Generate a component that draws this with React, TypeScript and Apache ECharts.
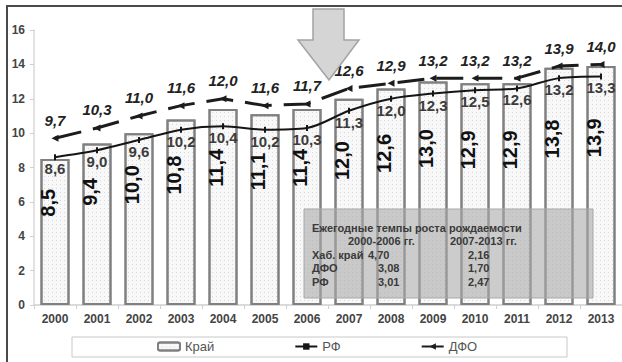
import React, { useEffect, useRef } from "react";
import * as echarts from "echarts";

// Birth rate per 1000 population
const years = ["2000", "2001", "2002", "2003", "2004", "2005", "2006", "2007", "2008", "2009", "2010", "2011", "2012", "2013"];
const kray = [8.5, 9.4, 10.0, 10.8, 11.4, 11.1, 11.4, 12.0, 12.6, 13.0, 12.9, 12.9, 13.8, 13.9];
const rf = [8.6, 9.0, 9.6, 10.2, 10.4, 10.2, 10.3, 11.3, 12.0, 12.3, 12.5, 12.6, 13.2, 13.3];
const dfo = [9.7, 10.3, 11.0, 11.6, 12.0, 11.6, 11.7, 12.6, 12.9, 13.2, 13.2, 13.2, 13.9, 14.0];

// Inset table: annual growth rates
const tableTitle = "Ежегодные темпы роста рождаемости";
const periods = ["2000-2006 гг.", "2007-2013 гг."];
const regions = ["Хаб. край", "ДФО", "РФ"];
const rate1 = ["4,70", "3,08", "3,01"];
const rate2 = ["2,16", "1,70", "2,47"];

const FONT = 'Arial, "Liberation Sans", sans-serif';
const fmt = (v: number) => v.toFixed(1).replace(".", ",");

export default function App() {
  const ref = useRef<HTMLDivElement>(null);

  useEffect(() => {
    if (!ref.current) return;
    const chart = echarts.init(ref.current, null, { renderer: "svg" });

    const rowY = [255, 268, 282];
    const tableTexts: any[] = [
      { type: "text", z: 101, x: 312, y: 228, style: { text: tableTitle, font: `bold 11px ${FONT}`, fill: "#3a3a3a", verticalAlign: "middle" } },
      { type: "text", z: 101, x: 348, y: 241, style: { text: periods[0], font: `bold 11px ${FONT}`, fill: "#3a3a3a", verticalAlign: "middle" } },
      { type: "text", z: 101, x: 450, y: 241, style: { text: periods[1], font: `bold 11px ${FONT}`, fill: "#3a3a3a", verticalAlign: "middle" } },
    ];
    regions.forEach((r, i) => {
      tableTexts.push({ type: "text", z: 101, x: 312, y: rowY[i], style: { text: r, font: `bold 11px ${FONT}`, fill: "#3a3a3a", verticalAlign: "middle" } });
      tableTexts.push({ type: "text", z: 101, x: i === 0 ? 368 : 378, y: rowY[i], style: { text: rate1[i], font: `bold 11px ${FONT}`, fill: "#3a3a3a", verticalAlign: "middle" } });
      tableTexts.push({ type: "text", z: 101, x: 468, y: rowY[i], style: { text: rate2[i], font: `bold 11px ${FONT}`, fill: "#3a3a3a", verticalAlign: "middle" } });
    });

    chart.setOption({
      animation: false,
      backgroundColor: "#fff",
      textStyle: { fontFamily: FONT },
      grid: { left: 34, right: -3, top: 30, bottom: 57 },
      legend: {
        left: 157,
        top: 340,
        padding: 0,
        itemGap: 80,
        itemWidth: 22,
        itemHeight: 8,
        textStyle: { fontSize: 13, color: "#555", fontFamily: FONT },
        data: ["Край", "РФ", "ДФО"],
      },
      xAxis: {
        type: "category",
        data: years,
        axisLine: { lineStyle: { color: "#cfcfcf", width: 1.5 } },
        axisTick: { show: true, length: 4, lineStyle: { color: "#cfcfcf" } },
        axisLabel: { fontSize: 12, fontWeight: "bold", color: "#444", margin: 8 },
      },
      yAxis: {
        type: "value",
        min: 0,
        max: 16,
        interval: 2,
        splitLine: { show: false },
        axisLine: { show: true, lineStyle: { color: "#d8d8d8", width: 1.5 } },
        axisTick: { show: true, length: 4, lineStyle: { color: "#cfcfcf" } },
        axisLabel: { fontSize: 12, fontWeight: "bold", color: "#444", margin: 9 },
      },
      series: [
        {
          name: "Край",
          type: "bar",
          data: kray,
          barWidth: 29,
          itemStyle: {
            color: "#f8f8f8",
            borderColor: "#808080",
            borderWidth: 2,
            decal: {
              symbol: "rect",
              symbolSize: 1,
              dashArrayX: [1, 3],
              dashArrayY: [1, 3],
              color: "rgba(0,0,0,0.13)",
            },
          },
          label: {
            show: true,
            position: ["25%", "30%"],
            rotate: 90,
            align: "center",
            verticalAlign: "middle",
            fontSize: 20,
            fontWeight: "bold",
            color: "#111",
            formatter: (p: any) => fmt(p.value),
          },
        },
        {
          name: "РФ",
          type: "line",
          data: rf,
          smooth: 0.3,
          symbol: "rect",
          symbolSize: [2, 6],
          lineStyle: { color: "#151515", width: 2 },
          itemStyle: { color: "#151515" },
          label: {
            show: true,
            position: "bottom",
            distance: 1,
            fontSize: 15,
            fontWeight: "bold",
            color: "#3c3c3c",
            formatter: (p: any) => fmt(p.value),
          },
          z: 3,
        },
        {
          name: "ДФО",
          type: "line",
          data: dfo,
          symbol: "triangle",
          symbolSize: 7,
          symbolRotate: 90,
          lineStyle: { color: "#1c1c1c", width: 3, type: [27, 12] },
          itemStyle: { color: "#1c1c1c" },
          label: {
            show: true,
            position: "top",
            distance: 7,
            fontSize: 15,
            fontWeight: "bold",
            fontStyle: "italic",
            color: "#222",
            formatter: (p: any) => fmt(p.value),
          },
          z: 4,
        },
      ],
      graphic: [
        // outer frame
        { type: "polyline", z: 100, shape: { points: [[7, 362], [7, 6], [622, 6]] }, style: { stroke: "#4a4a4a", lineWidth: 2, fill: "none" } },
        // legend frame
        { type: "rect", z: 1, shape: { x: 72, y: 337, width: 495, height: 20 }, style: { stroke: "#c8c8c8", lineWidth: 1, fill: "none" } },
        // downward arrow marking 2006/2007
        {
          type: "polygon",
          z: 100,
          shape: { points: [[313, 9], [344, 9], [344, 40], [359, 40], [329, 80], [298, 40], [313, 40]] },
          style: { fill: "#d5d5d5", stroke: "#a3a3a3", lineWidth: 1.5 },
        },
        // inset table box
        {
          type: "rect",
          z: 100,
          shape: { x: 304, y: 209, width: 289, height: 89 },
          style: { fill: "rgba(170,170,170,0.6)", stroke: "#a8a8a8", lineWidth: 1 },
        },
        ...tableTexts,
      ],
    });

    return () => chart.dispose();
  }, []);

  return <div ref={ref} style={{ position: "fixed", left: 0, top: 0, width: 622, height: 362 }} />;
}
